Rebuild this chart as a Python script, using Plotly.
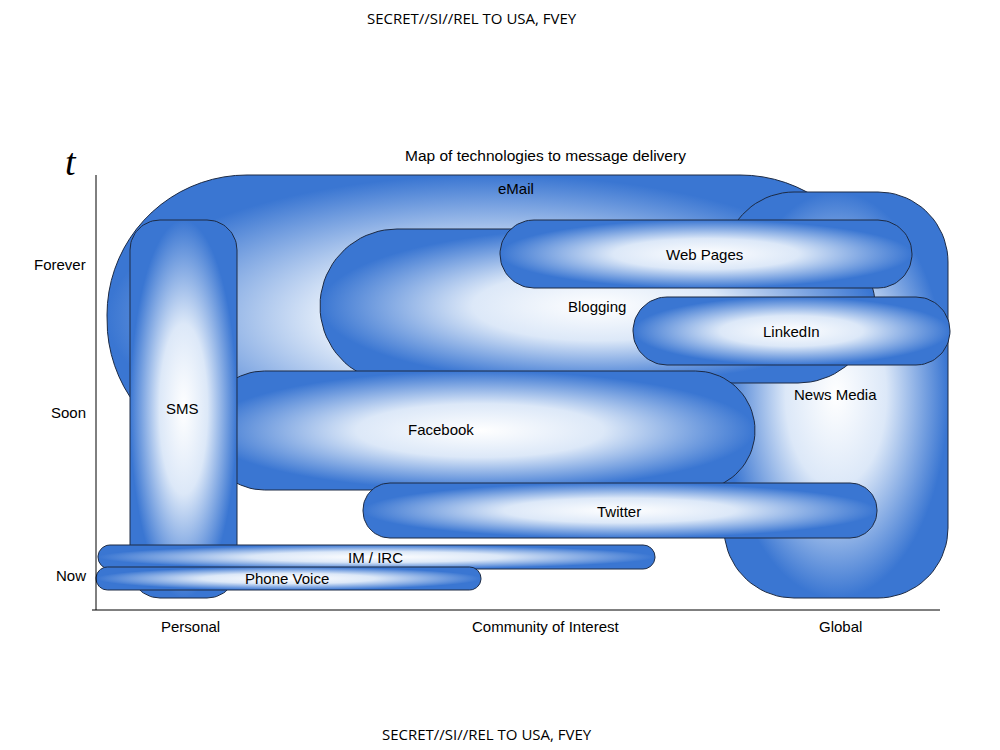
import numpy as np
import plotly.graph_objects as go

# bubbles, back to front: name, left, right, top, bottom, corner radius
names = ["eMail", "News Media", "Blogging", "Web Pages", "LinkedIn", "Facebook",
         "Twitter", "SMS", "IM / IRC", "Phone Voice"]
left = [107, 724, 320, 500, 633, 205, 363, 130, 98, 96]
right = [880, 948, 875, 912, 950, 755, 877, 237, 655, 481]
top = [175, 192, 229, 220, 297, 371, 483, 220, 545, 567]
bottom = [460, 598, 383, 288, 365, 490, 538, 598, 569, 590]
radius = [140, 70, 77, 34, 34, 60, 27, 30, 12, 11.5]
label_x = [516, 835, 597, 704, 791, 441, 619, 182, 375, 287]
label_y = [188, 394, 306, 254, 331, 429, 511, 408, 557, 578]

y_ticks = ["Forever", "Soon", "Now"]
y_tick_pos = [264, 412, 575]
x_ticks = ["Personal", "Community of Interest", "Global"]
x_tick_pos = [190, 546, 840]


def rounded_box(x0, x1, y0, y1, r):
    r = min(r, (x1 - x0) / 2, (y1 - y0) / 2)
    xs, ys = [], []
    corners = [(x1 - r, y0 + r, -90, 0), (x1 - r, y1 - r, 0, 90),
               (x0 + r, y1 - r, 90, 180), (x0 + r, y0 + r, 180, 270)]
    for cx, cy, a0, a1 in corners:
        a = np.radians(np.linspace(a0, a1, 20))
        xs += list(cx + r * np.cos(a))
        ys += list(cy + r * np.sin(a))
    return xs + xs[:1], ys + ys[:1]


fig = go.Figure()
for i, name in enumerate(names):
    xs, ys = rounded_box(left[i], right[i], top[i], bottom[i], radius[i])
    fig.add_trace(go.Scatter(
        x=xs, y=ys, mode="lines", fill="toself",
        line=dict(color="#1c2a44", width=1),
        fillgradient=dict(type="radial",
                          colorscale=[[0, "#ffffff"], [0.45, "#dce8f8"], [1, "#3a76d2"]]),
        hoverinfo="skip", showlegend=False))

for i, name in enumerate(names):
    fig.add_annotation(x=label_x[i], y=label_y[i], text=name, showarrow=False,
                       font=dict(size=15, color="black"))

for lab, y in zip(y_ticks, y_tick_pos):
    fig.add_annotation(x=88, y=y, text=lab, showarrow=False, xanchor="right",
                       font=dict(size=15, color="black"))
for lab, x in zip(x_ticks, x_tick_pos):
    fig.add_annotation(x=x, y=626, text=lab, showarrow=False,
                       font=dict(size=15, color="black"))

# axes
fig.add_shape(type="line", x0=96, x1=96, y0=175, y1=610, line=dict(color="black", width=1))
fig.add_shape(type="line", x0=92, x1=940, y0=610, y1=610, line=dict(color="black", width=1))

fig.add_annotation(x=71, y=162, text="<i>t</i>", showarrow=False,
                   font=dict(size=38, color="black", family="Liberation Serif"))
fig.add_annotation(x=545, y=155, text="Map of technologies to message delivery",
                   showarrow=False, font=dict(size=15.5, color="black"))
fig.add_annotation(x=472, y=18, text="SECRET//SI//REL TO USA, FVEY", showarrow=False,
                   font=dict(size=15, color="black", family="Open Sans"))
fig.add_annotation(x=487, y=734, text="SECRET//SI//REL TO USA, FVEY", showarrow=False,
                   font=dict(size=15, color="black", family="Open Sans"))

# page body has an 8px margin, so shift the ranges to keep pixel positions
fig.update_layout(
    width=1000, height=750, margin=dict(l=0, r=0, t=0, b=0),
    paper_bgcolor="white", plot_bgcolor="white",
    font=dict(family="Liberation Sans"),
    xaxis=dict(range=[8, 1008], visible=False),
    yaxis=dict(range=[758, 8], visible=False),
)
fig.write_html("out.html")
